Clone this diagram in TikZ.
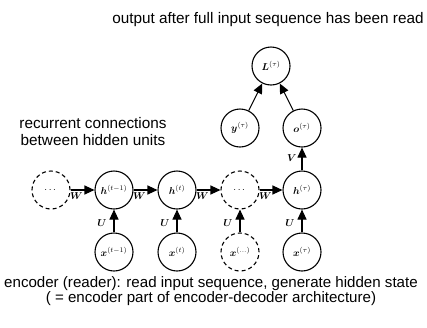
\documentclass[tikz,border=0pt]{standalone}
\usepackage[no-math]{fontspec}
\setmainfont{Liberation Sans}
\usepackage{amsmath}
\usetikzlibrary{arrows.meta}

\begin{document}
\begin{tikzpicture}[x=1pt,y=-1pt,
  unit/.style={circle, draw, line width=1.1pt, minimum size=38pt, inner sep=0pt,
               font=\fontsize{10}{12}\selectfont},
  ghost/.style={unit, dash pattern=on 4pt off 3pt},
  link/.style={line width=1.1pt, -{Triangle[length=10pt,width=9pt]}},
  lab/.style={font=\fontsize{10}{12}\selectfont, inner sep=1pt},
  note/.style={align=center, anchor=base}]
\useasboundingbox (0,0) rectangle (427,327);

% hidden state chain
\node[ghost] (d1) at (51,190) {$\cdots$};
\node[unit]  (h1) at (114,190) {$\boldsymbol{h}^{(t-1)}$};
\node[unit]  (h2) at (177,190) {$\boldsymbol{h}^{(t)}$};
\node[ghost] (d2) at (240,190) {$\cdots$};
\node[unit]  (hT) at (302,190) {$\boldsymbol{h}^{(\tau)}$};

% inputs
\node[unit]  (x1) at (114,252) {$\boldsymbol{x}^{(t-1)}$};
\node[unit]  (x2) at (177,252) {$\boldsymbol{x}^{(t)}$};
\node[ghost] (xd) at (240,252) {$\boldsymbol{x}^{(\ldots)}$};
\node[unit]  (xT) at (302,252) {$\boldsymbol{x}^{(\tau)}$};

% output, target and loss
\node[unit] (y) at (240,128) {$\boldsymbol{y}^{(\tau)}$};
\node[unit] (o) at (302,128) {$\boldsymbol{o}^{(\tau)}$};
\node[unit] (L) at (271,66)  {$\boldsymbol{L}^{(\tau)}$};

% recurrent connections
\foreach \a/\b in {d1/h1, h1/h2, h2/d2, d2/hT}
  \draw[link] (\a) -- node[lab, pos=0, anchor=north west, xshift=-2pt, yshift=-1pt] {$\boldsymbol{W}$} (\b);

% input-to-hidden connections
\foreach \a/\b in {x1/h1, x2/h2, xd/d2, xT/hT}
  \draw[link] (\a) -- node[lab, pos=0.4, anchor=east, xshift=-6pt] {$\boldsymbol{U}$} (\b);

% hidden-to-output and loss
\draw[link] (hT) -- node[lab, pos=0.55, anchor=east, xshift=-4pt] {$\boldsymbol{V}$} (o);
\draw[link] (y) -- (L);
\draw[link] (o) -- (L);

% annotations
\node[note, font=\fontsize{15.3}{17}\selectfont] (top) at (268,23)
  {output after full input sequence has been read};
\node[note, font=\fontsize{15.3}{17}\selectfont] (rec) at (93,145)
  {recurrent connections\\between hidden units};
\node[note, font=\fontsize{15.1}{15}\selectfont] (enc) at (211,302)
  {encoder (reader): read input sequence, generate hidden state\\( = encoder part of encoder-decoder architecture)};
\end{tikzpicture}
\end{document}
